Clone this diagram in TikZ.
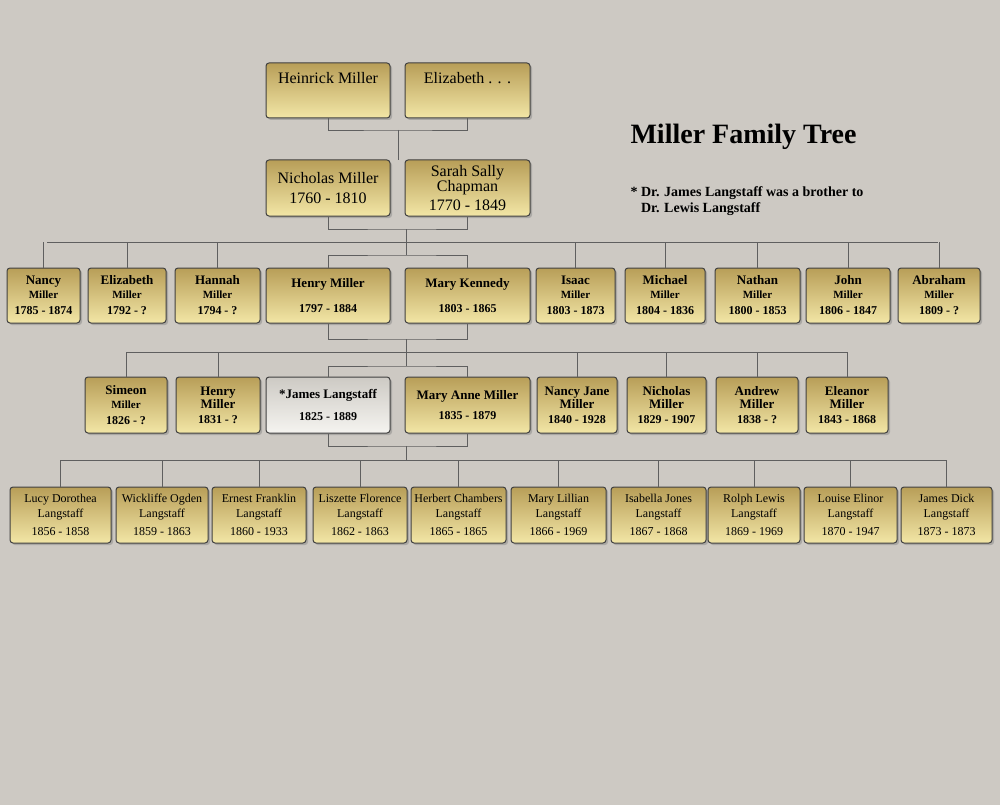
\documentclass[tikz,border=0pt]{standalone}
\usepackage{fontspec}
\setmainfont{Liberation Serif}
\usetikzlibrary{shadows}
\definecolor{bgc}{RGB}{205,201,195}
\definecolor{gtop}{RGB}{184,158,88}
\definecolor{gbot}{RGB}{242,230,166}
\definecolor{wtop}{RGB}{205,202,196}
\definecolor{wbot}{RGB}{245,244,240}
\definecolor{lnc}{RGB}{95,95,95}
\newcommand{\fs}[1]{\fontsize{#1}{#1}\selectfont}
\tikzset{
 pbox/.style={draw=black!75,line width=1pt,rounded corners=3pt,top color=gtop,bottom color=gbot,
   drop shadow={opacity=0.45,shadow xshift=2pt,shadow yshift=-2pt},inner sep=0pt,align=center},
 wbox/.style={pbox,top color=wtop,bottom color=wbot},
 ln/.style={draw=lnc,line width=0.9pt}
}
\newcommand{\bx}[7][pbox]{\node[#1,minimum width=#5-#3,minimum height=#6-#4] (#2) at ({(#3+#5)/2},{(#4+#6)/2}) {#7};}
\begin{document}
\begin{tikzpicture}[x=1pt,y=-1pt]
\fill[bgc] (0,0) rectangle (1000,805);
\useasboundingbox (0,0) rectangle (1000,805);
% row 0
\bx{hm}{266}{63}{390}{118}{\fs{16}Heinrick Miller\\[14pt]}
\bx{el}{405}{63}{530}{118}{\fs{16}Elizabeth . . .\\[14pt]}
% row 1
\bx{nm}{266}{160}{390}{216}{\fs{16}Nicholas Miller\\[8pt]\fs{16}1760 - 1810}
\bx{ss}{405}{160}{530}{216}{\fs{16}Sarah Sally\\[-1pt]\fs{16}Chapman\\[4pt]\fs{16}1770 - 1849}
% row 2
\newcommand{\kid}[3]{{\bfseries\fs{13}#1}\\[2pt]{\bfseries\fs{11}#2}\\[4pt]{\bfseries\fs{12}#3}}
\bx{n2}{7}{268}{80}{323}{\kid{Nancy}{Miller}{1785 - 1874}}
\bx{e2}{88}{268}{166}{323}{\kid{Elizabeth}{Miller}{1792 - ?}}
\bx{h2}{175}{268}{260}{323}{\kid{Hannah}{Miller}{1794 - ?}}
\bx{hy}{266}{268}{390}{323}{{\bfseries\fs{13}Henry Miller}\\[13pt]{\bfseries\fs{12}1797 - 1884}}
\bx{mk}{405}{268}{530}{323}{{\bfseries\fs{13}Mary Kennedy}\\[13pt]{\bfseries\fs{12}1803 - 1865}}
\bx{i2}{536}{268}{615}{323}{\kid{Isaac}{Miller}{1803 - 1873}}
\bx{m2}{625}{268}{705}{323}{\kid{Michael}{Miller}{1804 - 1836}}
\bx{t2}{715}{268}{800}{323}{\kid{Nathan}{Miller}{1800 - 1853}}
\bx{j2}{806}{268}{890}{323}{\kid{John}{Miller}{1806 - 1847}}
\bx{a2}{898}{268}{980}{323}{\kid{Abraham}{Miller}{1809 - ?}}
% row 3
\newcommand{\kidb}[3]{{\bfseries\fs{13}#1}\\[1pt]{\bfseries\fs{13}#2}\\[3pt]{\bfseries\fs{12}#3}}
\bx{s3}{85}{377}{167}{433}{\kid{Simeon}{Miller}{1826 - ?}}
\bx{h3}{176}{377}{260}{433}{\kidb{Henry}{Miller}{1831 - ?}}
\bx[wbox]{jl}{266}{377}{390}{433}{{\bfseries\fs{13}*James Langstaff}\\[10pt]{\bfseries\fs{12}1825 - 1889}}
\bx{ma}{405}{377}{530}{433}{{\bfseries\fs{13}Mary Anne Miller}\\[8pt]{\bfseries\fs{12}1835 - 1879}}
\bx{nj}{537}{377}{617}{433}{\kidb{Nancy Jane}{Miller}{1840 - 1928}}
\bx{ni}{627}{377}{706}{433}{\kidb{Nicholas}{Miller}{1829 - 1907}}
\bx{an}{716}{377}{798}{433}{\kidb{Andrew}{Miller}{1838 - ?}}
\bx{eo}{806}{377}{888}{433}{\kidb{Eleanor}{Miller}{1843 - 1868}}
% row 4
\newcommand{\gk}[2]{\fs{12}#1\\[3pt]\fs{12}Langstaff\\[6pt]\fs{12}#2}
\bx{g1}{10}{487}{111}{543}{\gk{Lucy Dorothea}{1856 - 1858}}
\bx{g2}{116}{487}{208}{543}{\gk{Wickliffe Ogden}{1859 - 1863}}
\bx{g3}{212}{487}{306}{543}{\gk{Ernest Franklin}{1860 - 1933}}
\bx{g4}{313}{487}{407}{543}{\gk{Liszette Florence}{1862 - 1863}}
\bx{g5}{411}{487}{506}{543}{\gk{Herbert Chambers}{1865 - 1865}}
\bx{g6}{511}{487}{606}{543}{\gk{Mary Lillian}{1866 - 1969}}
\bx{g7}{611}{487}{706}{543}{\gk{Isabella Jones}{1867 - 1868}}
\bx{g8}{708}{487}{800}{543}{\gk{Rolph Lewis}{1869 - 1969}}
\bx{g9}{804}{487}{897}{543}{\gk{Louise Elinor}{1870 - 1947}}
\bx{g10}{901}{487}{992}{543}{\gk{James Dick}{1873 - 1873}}
% title
\node[anchor=west,font=\bfseries\fs{28}] (title) at (627,137) {Miller Family Tree};
\node[anchor=north west,align=left,font=\bfseries\fs{14}] (note) at (627,183) {* Dr. James Langstaff was a brother to\\[2pt]\hphantom{* }Dr. Lewis Langstaff};
% connectors
\coordinate (c0) at (398,130);
\draw[ln] (hm.south) |- (c0) -| (el.south);
\draw[ln] (c0) -- (398,160);
\coordinate (c1) at (406,229);
\draw[ln] (nm.south) |- (c1) -| (ss.south);
\coordinate (b1) at (406,242);
\draw[ln] (c1) -- (b1);
\draw[ln] (47,242) -- (938,242);
\foreach \n in {n2,e2,h2,i2,m2,t2,j2,a2} \draw[ln] (\n.north) -- (\n.north|-b1);
\coordinate (k1) at (406,255);
\draw[ln] (b1) -- (k1);
\draw[ln] (hy.north) |- (k1) -| (mk.north);
\coordinate (c2) at (406,339);
\draw[ln] (hy.south) |- (c2) -| (mk.south);
\coordinate (b2) at (406,352);
\draw[ln] (c2) -- (b2);
\draw[ln] (127,352) -- (847,352);
\foreach \n in {s3,h3,nj,ni,an,eo} \draw[ln] (\n.north) -- (\n.north|-b2);
\coordinate (k2) at (406,366);
\draw[ln] (b2) -- (k2);
\draw[ln] (jl.north) |- (k2) -| (ma.north);
\coordinate (c3) at (406,446);
\draw[ln] (jl.south) |- (c3) -| (ma.south);
\coordinate (b3) at (406,460);
\draw[ln] (c3) -- (b3);
\draw[ln] (60,460) -- (947,460);
\foreach \n in {g1,g2,g3,g4,g5,g6,g7,g8,g9,g10} \draw[ln] (\n.north) -- (\n.north|-b3);
\end{tikzpicture}
\end{document}
